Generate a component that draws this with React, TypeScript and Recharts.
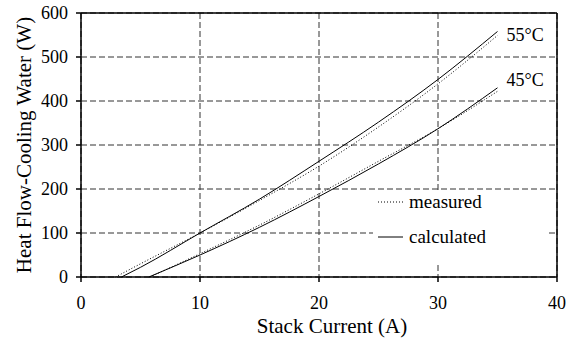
import {
  CartesianGrid,
  Legend,
  Line,
  LineChart,
  ReferenceLine,
  XAxis,
  YAxis,
} from 'recharts'

// Stack current (A) and heat flow to the cooling water (W).
const current55Calc = [3.4, 5, 10, 15, 20, 25, 30, 35]
const heat55Calc = [0, 22, 100, 177, 263, 352, 449, 558]
const current55Meas = [2.9, 5, 10, 15, 20, 25, 30, 35]
const heat55Meas = [0, 30, 100, 174, 252, 341, 439, 549]
const current45Calc = [5.7, 10, 15, 20, 25, 30, 35]
const heat45Calc = [0, 50, 113, 183, 257, 337, 430]
const current45Meas = [5.8, 10, 15, 20, 25, 30, 35]
const heat45Meas = [0, 53, 118, 189, 263, 337, 422]

const xTicks = [0, 10, 20, 30, 40]
const yTicks = [0, 100, 200, 300, 400, 500, 600]

const FONT = 'Liberation Serif, DejaVu Serif, Times New Roman, serif'

const zip = (xs: number[], ys: number[]) => xs.map((x, i) => ({ x, y: ys[i] }))

const series55Calc = zip(current55Calc, heat55Calc)
const series55Meas = zip(current55Meas, heat55Meas)
const series45Calc = zip(current45Calc, heat45Calc)
const series45Meas = zip(current45Meas, heat45Meas)

// tag the end of a calculated curve with its water temperature
function endTag(text: string, last: number, dy: number) {
  return (props: any) => {
    if (props.index !== last) return null
    return (
      <text x={props.x + 9} y={props.y + dy} style={{ fontFamily: FONT }} fontSize={18} fill="#000">
        {text}
      </text>
    )
  }
}

function LegendBox() {
  const row = (dash: string | undefined, label: string, top: number) => (
    <div style={{ position: 'absolute', left: 0, top, height: 24, display: 'flex', alignItems: 'center' }}>
      <svg width={36} height={24}>
        <line x1={5} x2={30} y1={12} y2={12} stroke="#000" strokeWidth={1} strokeDasharray={dash} />
      </svg>
      <span style={{ fontFamily: FONT, fontSize: 19, color: '#000', lineHeight: '24px' }}>{label}</span>
    </div>
  )
  return (
    <div style={{ position: 'relative', width: 174, height: 72, background: '#fff' }}>
      {row('1 2', 'measured', 0)}
      {row(undefined, 'calculated', 35)}
    </div>
  )
}

export default function App() {
  return (
    <div
      style={{
        position: 'absolute',
        left: 0,
        top: 0,
        width: 573,
        height: 341,
        background: '#fff',
        fontFamily: FONT,
      }}
    >
      <LineChart width={573} height={341} margin={{ top: 13, right: 16, bottom: 0, left: 0 }}>
        <CartesianGrid stroke="#333" strokeDasharray="6 3" />
        <XAxis
          dataKey="x"
          type="number"
          domain={[0, 40]}
          ticks={xTicks}
          height={64}
          stroke="#000"
          strokeWidth={1.5}
          tickSize={5}
          tickMargin={14}
          tick={{ style: { fontFamily: FONT }, fontSize: 18, fill: '#000' }}
          label={(props: any) => {
            const vb = props.viewBox
            return (
              <text
                x={vb.x + vb.width / 2 + 13}
                y={333}
                textAnchor="middle"
                style={{ fontFamily: FONT }}
                fontSize={21}
                fill="#000"
              >
                Stack Current (A)
              </text>
            )
          }}
        />
        <YAxis
          type="number"
          domain={[0, 600]}
          ticks={yTicks}
          width={81}
          stroke="#000"
          strokeWidth={1.5}
          tickSize={5}
          tickMargin={8}
          tick={{ style: { fontFamily: FONT }, fontSize: 18, fill: '#000' }}
          label={{
            value: 'Heat Flow-Cooling Water (W)',
            angle: -90,
            position: 'insideLeft',
            offset: 24,
            style: { textAnchor: 'middle', fontFamily: FONT, fontSize: 21, fill: '#000' },
          }}
        />
        <ReferenceLine y={600} stroke="#000" strokeWidth={1.5} />
        <ReferenceLine x={40} stroke="#000" strokeWidth={1.5} />
        <Line
          data={series55Meas}
          dataKey="y"
          stroke="#000"
          strokeWidth={1}
          strokeDasharray="1 2"
          dot={false}
          type="monotone"
          isAnimationActive={false}
        />
        <Line
          data={series45Meas}
          dataKey="y"
          stroke="#000"
          strokeWidth={1}
          strokeDasharray="1 2"
          dot={false}
          type="monotone"
          isAnimationActive={false}
        />
        <Line
          data={series55Calc}
          dataKey="y"
          stroke="#000"
          strokeWidth={1}
          dot={false}
          type="monotone"
          isAnimationActive={false}
          label={endTag('55°C', series55Calc.length - 1, 10)}
        />
        <Line
          data={series45Calc}
          dataKey="y"
          stroke="#000"
          strokeWidth={1}
          dot={false}
          type="monotone"
          isAnimationActive={false}
          label={endTag('45°C', series45Calc.length - 1, -2)}
        />
        <Legend
          layout="horizontal"
          verticalAlign="middle"
          align="center"
          content={() => <LegendBox />}
          wrapperStyle={{ left: 373, top: 190, width: 174, height: 72 }}
        />
      </LineChart>
    </div>
  )
}
